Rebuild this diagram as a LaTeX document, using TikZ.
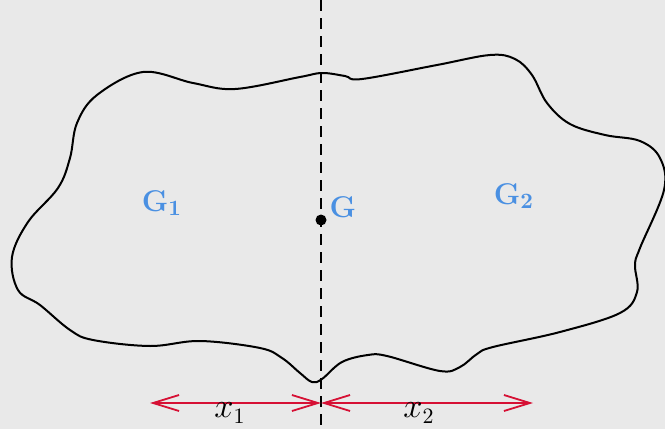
\documentclass[tikz,border=0pt]{standalone}
\usepackage{amsmath}
\usepackage{tikz}
\usetikzlibrary{arrows.meta}

\definecolor{bgray}{RGB}{233,233,233}
\definecolor{gblue}{RGB}{74,144,226}
\definecolor{dred}{RGB}{214,16,52}

\tikzset{
  outline/.style={line width=1pt, black},
  axis/.style={line width=0.9pt, dash pattern=on 5.5pt off 3.5pt},
  dim/.style={line width=0.9pt, dred, {Straight Barb[length=13pt,width=8pt]}-{Straight Barb[length=13pt,width=8pt]}},
  region/.style={text=gblue, font=\fontsize{15}{18}\selectfont\bfseries},
  dimlabel/.style={font=\fontsize{16}{19}\selectfont},
}

\begin{document}
\begin{tikzpicture}[x=0.5pt, y=-0.5pt]
  \fill[bgray] (0,0) rectangle (665,429);
  \useasboundingbox (0,0) rectangle (665,429);

  % outline of the body
  \draw[outline] plot[smooth cycle, tension=0.6] coordinates {
    (28,222) (58,188) (70,158) (77,123) (97,95) (143,72)
    (193,83) (235,89) (300,77) (322,73) (345,76) (362,79)
    (437,65) (490,55) (515,59) (532,75) (547,103) (570,124)
    (605,135) (640,141) (660,158) (664,190) (640,248) (635,265)
    (637,292) (620,313) (560,332) (493,347) (477,354) (460,367)
    (440,371) (387,356) (368,355) (342,362) (322,379) (312,382)
    (300,373) (282,358) (260,348) (200,341) (150,346) (93,340)
    (70,330) (40,305) (18,290) (12,257)};

  % axis through G
  \coordinate (top) at (321,0);
  \coordinate (bot) at (321,429);
  \draw[axis] (top) -- (bot);

  \node[circle, fill=black, inner sep=0pt, minimum size=5.5pt] (g) at (321,220) {};
  \node[region] (glab) at (343,207) {G};
  \node[region] (g1) at (162,203) {G$_{\mathbf 1}$};
  \node[region] (g2) at (514,196) {G$_{\mathbf 2}$};

  % distances
  \coordinate (l) at (150,403);
  \coordinate (m) at (321,403);
  \coordinate (r) at (533,403);
  \draw[dim] (l) -- (m);
  \draw[dim] (m) -- (r);
  \node[dimlabel] (x1) at (230,413) {$x_1$};
  \node[dimlabel] (x2) at (419,413) {$x_2$};
\end{tikzpicture}
\end{document}
